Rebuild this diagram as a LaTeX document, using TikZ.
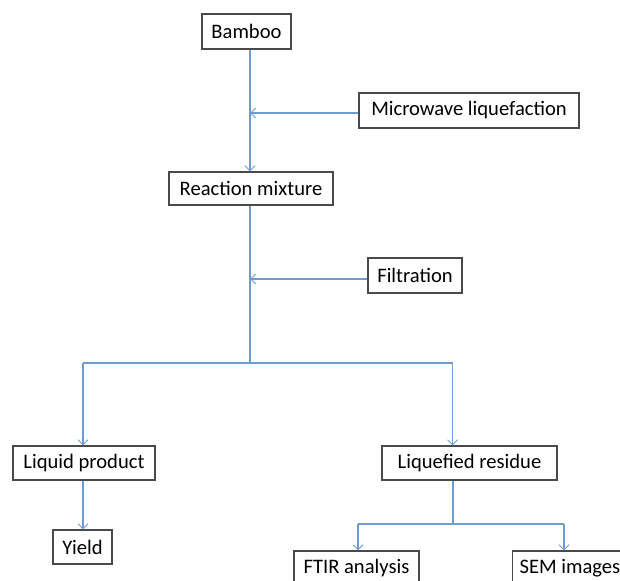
\documentclass[tikz,border=0pt]{standalone}
\usepackage{fontspec}
\setmainfont{Carlito}
\usetikzlibrary{arrows.meta}
\definecolor{lineblue}{HTML}{6F9BD4}
\definecolor{boxgray}{HTML}{4A4A4A}
\tikzset{
  box/.style={draw=boxgray, line width=1.1pt, rectangle, inner sep=0pt, fill=white,
    font=\fontsize{20.6}{24}\selectfont, text=black},
  conn/.style={draw=lineblue, line width=1.1pt},
  arr/.style={conn, -{Straight Barb[length=5pt, width=10pt, line width=1pt]}}
}
\begin{document}
\begin{tikzpicture}[x=1pt, y=-1pt]
\useasboundingbox (0,0) rectangle (620,580);
\clip (0,0) rectangle (620,580);
\node[box, minimum width=89pt, minimum height=35pt] (bamboo) at (246.5,31.5) {Bamboo};
\node[box, minimum width=220pt, minimum height=35pt] (micro) at (469,110.5) {Microwave liquefaction};
\node[box, minimum width=164pt, minimum height=33pt] (reaction) at (251,188.5) {Reaction mixture};
\node[box, minimum width=94pt, minimum height=35pt] (filtration) at (415,275.5) {Filtration};
\node[box, minimum width=142pt, minimum height=34pt] (liquid) at (84,463) {Liquid product};
\node[box, minimum width=59pt, minimum height=34pt] (yield) at (82.5,547) {Yield};
\node[box, minimum width=175pt, minimum height=34pt] (residue) at (469.5,463) {Liquefied residue};
\node[box, minimum width=125pt, minimum height=34pt] (ftir) at (356.5,568) {FTIR analysis};
\node[box, minimum height=34pt, inner xsep=7pt, anchor=west] (sem) at (512,568) {SEM images};
\coordinate (j1) at (250,113);
\coordinate (j2) at (250,279);
\coordinate (j3) at (250,363);
\coordinate (bl) at (83,363);
\coordinate (br) at (452.5,363);
\coordinate (k1) at (453,524);
\coordinate (kl) at (358,524);
\coordinate (kr) at (564,524);
\draw[arr] (bamboo.south -| j1) -- (reaction.north -| j1);
\draw[arr] (micro.west |- j1) -- (j1);
\draw[conn] (reaction.south -| j3) -- (j3);
\draw[arr] (filtration.west |- j2) -- (j2);
\draw[conn] (bl) -- (br);
\draw[arr] (bl) -- (liquid.north -| bl);
\draw[arr] (br) -- (residue.north -| br);
\draw[arr] (liquid.south -| bl) -- (yield.north -| bl);
\draw[conn] (residue.south -| k1) -- (k1);
\draw[conn] (kl) -- (kr);
\draw[arr] (kl) -- (ftir.north -| kl);
\draw[arr] (kr) -- (sem.north -| kr);
\end{tikzpicture}
\end{document}
